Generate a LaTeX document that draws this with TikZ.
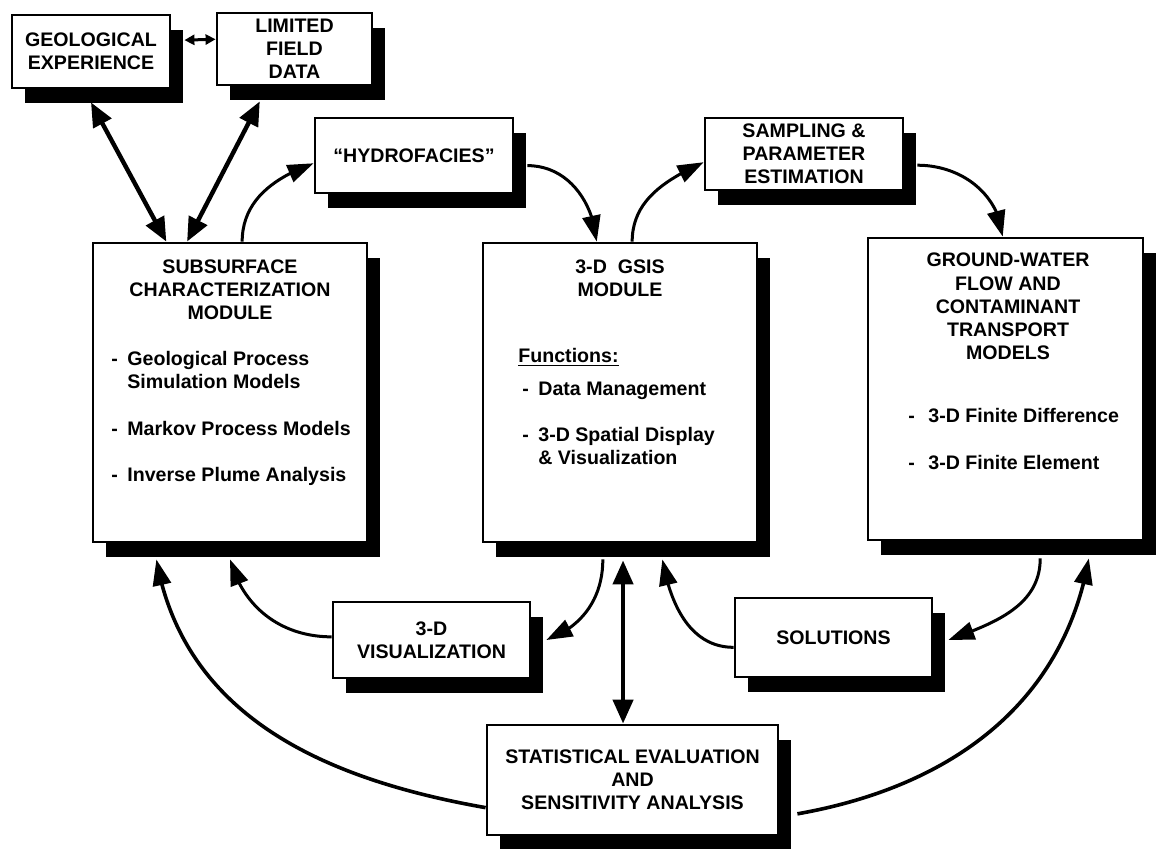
\documentclass[tikz,border=0pt]{standalone}
\usepackage{fontspec}
\setmainfont{Liberation Sans}
\usetikzlibrary{arrows.meta,calc,shadows,bending}
\begin{document}
\begin{tikzpicture}[x=0.5pt,y=-0.5pt,
  font=\fontsize{9.8}{11.6}\selectfont\bfseries,
  box/.style={draw=black, line width=1.4pt, fill=white, inner sep=0pt, align=center,
     drop shadow={shadow xshift=6.5pt, shadow yshift=-7.5pt, fill=black, opacity=1}},
  conn/.style={line width=1.5pt, -{Triangle[length=13pt,width=9pt]}},
  arc/.style={line width=1.8pt, -{Triangle[length=13pt,width=9pt]}},
  dbl/.style={line width=2.2pt, {Triangle[length=12pt,width=10pt]}-{Triangle[length=12pt,width=10pt]}},
  txt/.style={inner sep=0pt, align=left},
  ttl/.style={inner sep=0pt, align=center}
]
\useasboundingbox (0,0) rectangle (1156,849);

% boxes
\node[box, minimum width=79pt, minimum height=36.5pt] (geo) at (91,51.5) {GEOLOGICAL\\EXPERIENCE};
\node[box, minimum width=77.5pt, minimum height=36pt] (lim) at (294.5,49) {LIMITED\\FIELD\\DATA};
\node[box, minimum width=99pt, minimum height=37.5pt] (hyd) at (414,155.5) {``HYDROFACIES''};
\node[box, minimum width=99pt, minimum height=36pt] (smp) at (804,154) {SAMPLING \&\\PARAMETER\\ESTIMATION};
\node[box, minimum width=137pt, minimum height=149.5pt] (sub) at (230,392.5) {};
\node[box, minimum width=137pt, minimum height=149.5pt] (gsis) at (620,392.5) {};
\node[box, minimum width=137.5pt, minimum height=151pt] (gw) at (1005.5,389) {};
\node[box, minimum width=98.5pt, minimum height=38pt] (vis) at (431.5,640) {3-D\\VISUALIZATION};
\node[box, minimum width=98.5pt, minimum height=39.5pt] (sol) at (833.5,637.5) {SOLUTIONS};
\node[box, minimum width=145.5pt, minimum height=55pt] (stat) at (632.5,780) {STATISTICAL EVALUATION\\AND\\SENSITIVITY ANALYSIS};

% texts inside the large boxes
\node[ttl] (subT) at (230,290) {SUBSURFACE\\CHARACTERIZATION\\MODULE};
\node[txt, anchor=west] (subL) at (111,418.5) {\makebox[8pt][l]{-}Geological Process\\\hspace*{8pt}Simulation Models\\[11.6pt]\makebox[8pt][l]{-}Markov Process Models\\[11.6pt]\makebox[8pt][l]{-}Inverse Plume Analysis};
\node[ttl] (gsisT) at (620,278.5) {3-D\ \ GSIS\\MODULE};
\node[txt, anchor=west] (gsisL) at (518,406.5) {\underline{Functions:}\\[5pt]\hspace*{2pt}\makebox[8pt][l]{-}Data Management\\[11.6pt]\hspace*{2pt}\makebox[8pt][l]{-}3-D Spatial Display\\\hspace*{10pt}\& Visualization};
\node[ttl] (gwT) at (1008,306.5) {GROUND-WATER\\FLOW AND\\CONTAMINANT\\TRANSPORT\\MODELS};
\node[txt, anchor=west] (gwL) at (908,439) {\makebox[10pt][l]{-}3-D Finite Difference\\[11.6pt]\makebox[10pt][l]{-}3-D Finite Element};

% connectors (out/in angles are screen angles)
\draw[line width=1.5pt, {Triangle[length=5pt,width=5pt]}-{Triangle[length=5pt,width=5pt]}]
  ($(geo.north east)!0.35!(geo.south east)+(13,0)$) -- ($(lim.north west)!0.37!(lim.south west)$);
\draw[dbl] ($(geo.south west)!0.5!(geo.south east)+(0,13)$) -- ($(sub.north west)!0.27!(sub.north east)$);
\draw[dbl] ($(lim.south west)!0.28!(lim.south east)+(0,15)$) -- ($(sub.north west)!0.345!(sub.north east)$);

\draw[conn] ($(sub.north west)!0.544!(sub.north east)$) to[out=90,in=200] ($(hyd.north west)!0.6!(hyd.south west)$);
\draw[conn] ($(hyd.north east)!0.63!(hyd.south east)+(13,0)$) to[out=0,in=95] ($(gsis.north west)!0.416!(gsis.north east)$);
\draw[conn] ($(gsis.north west)!0.544!(gsis.north east)$) to[out=90,in=205] ($(smp.north west)!0.61!(smp.south west)$);
\draw[conn] ($(smp.north east)!0.65!(smp.south east)+(13,0)$) to[out=0,in=95] ($(gw.north west)!0.49!(gw.north east)$);

\draw[conn] ($(gsis.south west)!0.438!(gsis.south east)+(0,16)$) to[out=-90,in=20] ($(vis.east)+(15,0)$);
\draw[dbl] ($(gsis.south west)!0.511!(gsis.south east)+(0,17)$) coordinate (gs) -- (gs |- stat.north);
\draw[conn] ($(sol.north west)!0.62!(sol.south west)$) to[out=180,in=-80] ($(gsis.south west)!0.653!(gsis.south east)+(0,16)$);
\draw[conn] ($(gw.south west)!0.625!(gw.south east)+(0,17)$) to[out=-90,in=20] ($(sol.north east)!0.53!(sol.south east)+(15,0)$);
\draw[conn] ($(vis.north west)!0.46!(vis.south west)$) to[out=180,in=-75] ($(sub.south west)!0.5!(sub.south east)+(0,16)$);

\draw[arc] ($(stat.north west)!0.745!(stat.south west)$) to[out=170,in=-80] ($(sub.south west)!0.234!(sub.south east)+(0,16)$);
\draw[arc] ($(stat.north east)!0.8!(stat.south east)+(18,0)$) to[out=10,in=-100] ($(gw.south west)!0.8!(gw.south east)+(0,17)$);
\end{tikzpicture}
\end{document}
